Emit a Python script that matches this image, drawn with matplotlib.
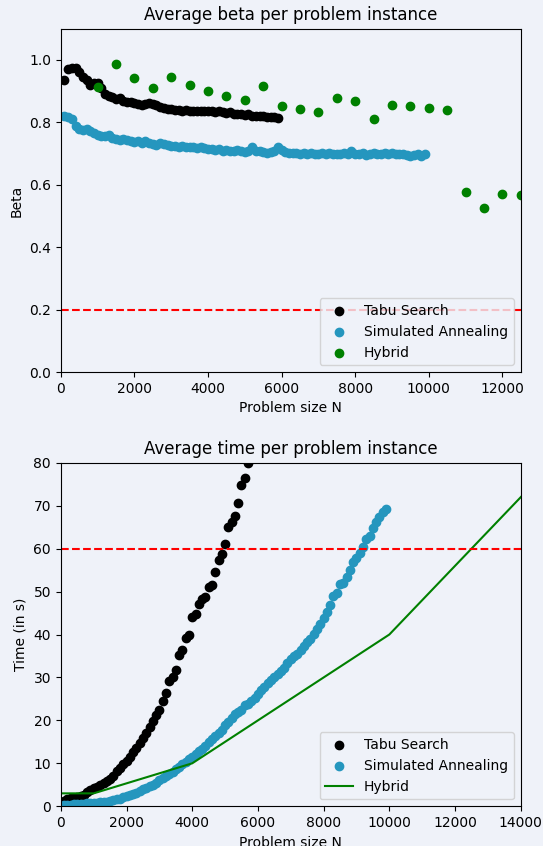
import numpy as np
import matplotlib.pyplot as plt

# problem sizes
tabu_n = list(range(100, 6000, 100))
sa_n = list(range(100, 10000, 100))
hybrid_n = [1000, 1500, 2000, 2500, 3000, 3500, 4000, 4500, 5000, 5500,
            6000, 6500, 7000, 7500, 8000, 8500, 9000, 9500, 10000, 10500,
            11000, 11500, 12000, 12500]
hybrid_time_n = [0, 1000, 4000, 10000, 15000]

tabu_beta = [0.935, 0.970, 0.975, 0.975, 0.960, 0.945, 0.935, 0.920, 0.925, 0.925,
             0.910, 0.890, 0.885, 0.880, 0.875, 0.878, 0.868, 0.865, 0.867, 0.862,
             0.858, 0.855, 0.860, 0.862, 0.860, 0.855, 0.850, 0.846, 0.843, 0.842,
             0.840, 0.840, 0.838, 0.840, 0.836, 0.838, 0.835, 0.837, 0.836, 0.838,
             0.835, 0.832, 0.835, 0.832, 0.830, 0.832, 0.828, 0.828, 0.826, 0.825,
             0.826, 0.822, 0.822, 0.820, 0.820, 0.818, 0.818, 0.816, 0.815]

sa_beta = [0.820, 0.818, 0.810, 0.790, 0.780, 0.775, 0.778, 0.772, 0.765, 0.760,
           0.757, 0.755, 0.760, 0.750, 0.748, 0.745, 0.748, 0.745, 0.742, 0.738,
           0.740, 0.735, 0.740, 0.733, 0.730, 0.728, 0.735, 0.730, 0.728, 0.725,
           0.726, 0.722, 0.724, 0.722, 0.720, 0.720, 0.718, 0.720, 0.717, 0.715,
           0.716, 0.712, 0.716, 0.710, 0.712, 0.710, 0.708, 0.712, 0.708, 0.706,
           0.710, 0.720, 0.710, 0.707, 0.705, 0.702, 0.705, 0.710, 0.720, 0.712,
           0.705, 0.703, 0.702, 0.703, 0.700, 0.702, 0.700, 0.703, 0.698, 0.700,
           0.702, 0.700, 0.703, 0.700, 0.698, 0.700, 0.702, 0.698, 0.710, 0.700,
           0.698, 0.702, 0.697, 0.700, 0.703, 0.698, 0.700, 0.702, 0.700, 0.703,
           0.700, 0.698, 0.700, 0.695, 0.693, 0.697, 0.700, 0.692, 0.698]

hybrid_beta = [0.912, 0.986, 0.941, 0.909, 0.944, 0.919, 0.902, 0.886, 0.872, 0.917,
               0.852, 0.842, 0.833, 0.877, 0.869, 0.810, 0.857, 0.852, 0.845, 0.839,
               0.578, 0.525, 0.572, 0.568]

tabu_time = [1.2, 1.7, 1.9, 2.0, 2.2, 2.4, 2.7, 3.3, 3.8, 4.2,
             4.5, 4.9, 5.3, 5.8, 6.4, 7.0, 8.2, 9.0, 9.8, 10.5,
             11.5, 12.6, 13.5, 14.7, 16.0, 17.0, 18.4, 19.8, 21.3, 22.5,
             24.5, 26.3, 29.2, 30.0, 31.7, 35.2, 36.5, 39.3, 40.0, 44.0,
             44.8, 47.0, 48.2, 48.8, 51.0, 51.5, 54.5, 57.3, 58.8, 61.0,
             65.0, 66.3, 67.5, 70.6, 74.8, 76.5, 80.0, 83.0, 86.0]

sa_time = [0.3, 0.35, 0.4, 0.45, 0.5, 0.55, 0.6, 0.65, 0.7, 0.8,
           0.85, 0.9, 1.0, 1.1, 1.2, 1.4, 1.6, 1.8, 2.1, 2.3,
           2.6, 2.9, 3.2, 3.5, 3.9, 4.2, 4.6, 5.0, 5.5, 6.0,
           6.5, 7.0, 7.5, 8.0, 8.6, 9.2, 9.8, 10.3, 11.0, 11.5,
           12.2, 12.8, 13.4, 14.1, 15.0, 15.6, 16.3, 17.0, 17.8, 19.0,
           19.6, 20.5, 21.5, 22.0, 22.5, 23.5, 23.8, 24.4, 25.3, 26.2,
           27.0, 27.8, 28.6, 29.3, 30.0, 30.8, 31.5, 32.3, 33.3, 34.2,
           35.0, 35.5, 36.5, 37.3, 38.3, 39.0, 40.2, 41.2, 42.5, 43.8,
           45.3, 46.8, 49.0, 49.6, 51.8, 52.0, 53.5, 55.0, 57.0, 57.8,
           59.0, 60.3, 62.3, 63.0, 64.8, 66.3, 67.4, 68.6, 69.3]

hybrid_time = [3, 3, 10, 40, 80]

bg = '#eff2f9'
sa_color = '#2596be'

fig, (ax1, ax2) = plt.subplots(2, 1, figsize=(5.43, 8.46), dpi=100, facecolor=bg)
fig.subplots_adjust(left=0.112, right=0.959, top=0.966, bottom=0.047, hspace=0.264)

ax1.set_facecolor(bg)
ax1.scatter(tabu_n, tabu_beta, color='black', label='Tabu Search')
ax1.scatter(sa_n, sa_beta, color=sa_color, label='Simulated Annealing')
ax1.scatter(hybrid_n, hybrid_beta, color='green', label='Hybrid')
ax1.axhline(0.2, color='red', linestyle='--')
ax1.set_xlim(0, 12500)
ax1.set_ylim(0, 1.1)
ax1.set_title('Average beta per problem instance')
ax1.set_xlabel('Problem size N')
ax1.set_ylabel('Beta')
ax1.legend(loc='lower right', facecolor=bg)

ax2.set_facecolor(bg)
ax2.scatter(tabu_n, tabu_time, color='black', label='Tabu Search')
ax2.scatter(sa_n, sa_time, color=sa_color, label='Simulated Annealing')
ax2.plot(hybrid_time_n, hybrid_time, color='green', label='Hybrid')
ax2.axhline(60, color='red', linestyle='--')
ax2.set_xlim(0, 14000)
ax2.set_ylim(0, 80)
ax2.set_title('Average time per problem instance')
ax2.set_xlabel('Problem size N')
ax2.set_ylabel('Time (in s)')
ax2.legend(loc='lower right', facecolor=bg)

fig.savefig('out.png', facecolor=bg)
